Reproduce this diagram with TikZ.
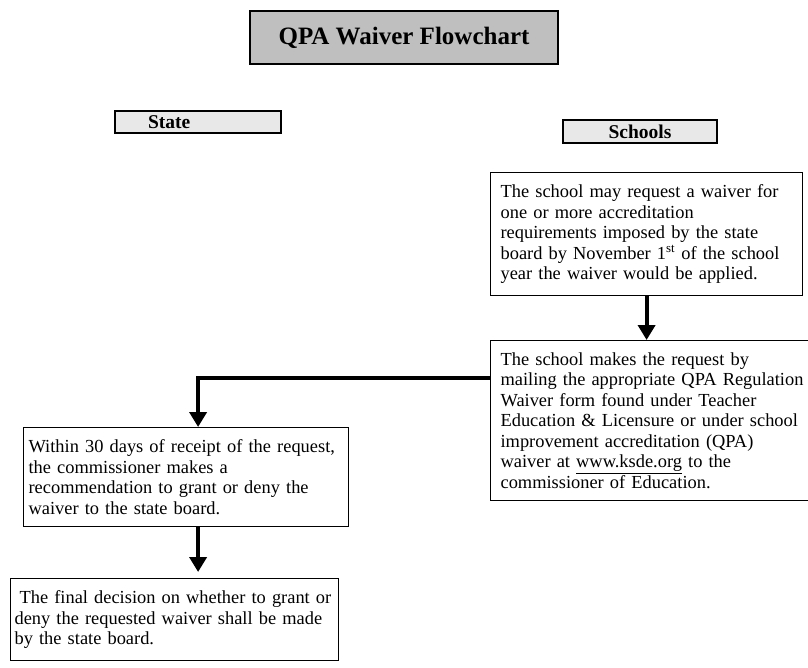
\documentclass[tikz,border=0pt]{standalone}
\usepackage{fontspec}
\setmainfont{Liberation Serif}
\usetikzlibrary{positioning}
\usetikzlibrary{arrows.meta}

\begin{document}
\begin{tikzpicture}[x=1pt,y=-1pt,
  box/.style={draw,line width=1.2pt,anchor=north west,align=left,inner xsep=10pt,inner ysep=12pt,font=\fontsize{18.4}{20.5}\selectfont},
  tag/.style={draw,line width=1.5pt,fill=gray!18,inner ysep=2pt,font=\fontsize{19.5}{22}\selectfont\bfseries},
  flow/.style={line width=4pt,-{Triangle[length=15pt,width=17pt]}}]
\useasboundingbox (0,0) rectangle (808,667);

\node [tag,fill=gray!50,minimum width=308pt,minimum height=53pt,font=\fontsize{25}{28}\selectfont\bfseries] (title) at (404,37.5) {QPA Waiver Flowchart};
\node [tag,minimum height=22pt,text width=166pt,inner xsep=0pt,align=left] (state) at (198,122) {\hspace*{33pt}State};
\node [tag,minimum width=154pt,minimum height=23pt] (schools) at (640,131.5) {Schools};

\node [box,text width=292pt] (request) at (490,172) {The school may request a waiver for\\ one or more accreditation\\ requirements imposed by the state\\ board by November 1\textsuperscript{st} of the school\\ year the waiver would be applied.};
\node [box,text width=310pt] (mailing) at (490,340) {The school makes the request by\\ mailing the appropriate QPA Regulation\\ Waiver form found under Teacher\\ Education \& Licensure or under school\\ improvement accreditation (QPA)\\ waiver at \underline{www.ksde.org} to the\\ commissioner of Education.};
\node [box,text width=315pt,inner xsep=5pt] (recommend) at (23,427) {Within 30 days of receipt of the request,\\ the commissioner makes a\\ recommendation to grant or deny the\\ waiver to the state board.};
\node [box,text width=320pt,inner xsep=4pt] (decision) at (10,578) {\hspace*{5pt}The final decision on whether to grant or\\ deny the requested waiver shall be made\\ by the state board.};

\draw [flow] (request.south) -- (request.south |- mailing.north);
\draw [flow] ([yshift=-38pt]mailing.north west) -| ([xshift=12pt]recommend.north);
\draw [flow,shorten >=6pt] ([xshift=12pt]recommend.south) -- ([xshift=12pt]recommend.south |- decision.north);
\end{tikzpicture}
\end{document}
